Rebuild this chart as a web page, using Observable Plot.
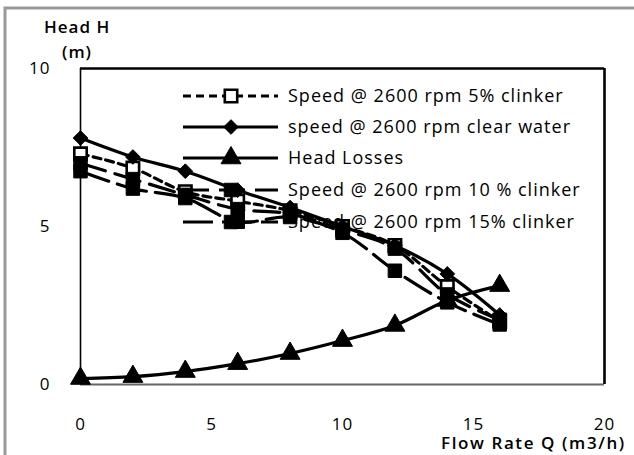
<!DOCTYPE html>
<html><head><meta charset="utf-8">
<script src="https://cdn.jsdelivr.net/npm/d3@7"></script>
<script src="https://cdn.jsdelivr.net/npm/@observablehq/plot@0.6"></script>
<style>body{margin:0;background:#fff} #chart{position:relative;width:634px;height:455px;overflow:hidden}</style>
</head><body><div id="chart"></div>
<script>
// ---- data ----
const flowRate   = [0, 2, 4, 6, 8, 10, 12, 14, 16];
const clinker5   = [7.3, 6.85, 6.1, 5.8, 5.5, 5.0, 4.4, 3.1, 2.0];
const clearWater = [7.8, 7.2, 6.75, 6.15, 5.6, 5.0, 4.4, 3.5, 2.2];
const headLosses = [0.19, 0.25, 0.41, 0.66, 0.98, 1.39, 1.87, 2.66, 3.13];
const clinker10  = [7.0, 6.5, 6.0, 5.55, 5.4, 4.9, 4.3, 2.85, 2.05];
const clinker15  = [6.75, 6.2, 5.9, 5.15, 5.3, 4.8, 3.6, 2.6, 1.9];
const seriesNames = [
  "Speed @ 2600 rpm 5% clinker",
  "speed @ 2600 rpm clear water",
  "Head Losses",
  "Speed @ 2600 rpm 10 % clinker",
  "Speed @ 2600 rpm 15% clinker"
];
const xTicks = [0, 5, 10, 15, 20];
const yTicks = [0, 5, 10];
const xLabel = "Flow Rate Q (m3/h)";
const yLabel1 = "Head H";
const yLabel2 = "(m)";

const seriesValues = [clinker5, clearWater, headLosses, clinker10, clinker15];
const styles = [
  {dash: "8,5",   symbol: "square",   fill: "#fff", r: 7.0},
  {dash: null,    symbol: "diamond2", fill: "#000", r: 6.6},
  {dash: null,    symbol: "triangle", fill: "#000", r: 7.4},
  {dash: "26,10", symbol: "square",   fill: "#000", r: 7.6},
  {dash: "30,9",  symbol: "square",   fill: "#000", r: 7.6}
];
const rows = [];
seriesNames.forEach((name, i) => flowRate.forEach((q, j) => rows.push({series: name, idx: i, q, h: seriesValues[i][j]})));

const marks = [];
seriesNames.forEach((name, i) => {
  const d = rows.filter(r => r.idx === i);
  const st = styles[i];
  marks.push(Plot.line(d, {x: "q", y: "h", stroke: "#000", strokeWidth: 3.2, curve: "catmull-rom", strokeDasharray: st.dash || undefined}));
  marks.push(Plot.dot(d, {x: "q", y: "h", symbol: () => st.symbol, r: st.r, fill: st.fill, stroke: "#000", strokeWidth: st.fill === "#fff" ? 2.6 : 1}));
});

const plot = Plot.plot({
  width: 634, height: 455,
  marginLeft: 80, marginTop: 68, marginRight: 30, marginBottom: 71,
  style: {fontFamily: "Open Sans, sans-serif", fontSize: "17px", letterSpacing: "1px", background: "transparent", color: "#000", overflow: "visible"},
  x: {domain: [0, 20], ticks: xTicks, tickSize: 0, tickPadding: 33, label: null},
  y: {domain: [0, 10], ticks: yTicks, tickSize: 0, tickPadding: 30, label: null},
  marks: [
    Plot.ruleX([0], {stroke: "#000", strokeWidth: 1.6}),
    Plot.ruleY([0], {stroke: "#666", strokeWidth: 2.2}),
    Plot.ruleY([10], {stroke: "#000", strokeWidth: 2.6}),
    Plot.ruleX([20], {stroke: "#000", strokeWidth: 2.6}),
    ...marks
  ]
});
document.getElementById("chart").appendChild(plot);

// ---- decorations: outer border, axis titles, legend ----
const svg = d3.select(plot);
svg.append("path").attr("d", "M5,460 V8 H640").attr("fill", "none").attr("stroke", "#999").attr("stroke-width", 3);
const tf = "Open Sans, sans-serif";
const addText = (x, y, t, opts = {}) => svg.append("text").attr("x", x).attr("y", y)
  .attr("text-anchor", "start").attr("font-family", tf).attr("font-size", opts.size || 18)
  .attr("letter-spacing", opts.ls || "1px")
  .attr("font-weight", opts.weight || 400).attr("dy", "0.35em").text(t);
addText(44, 27, yLabel1, {weight: 600, size: 17, ls: "1px"});
addText(62, 52, yLabel2, {weight: 600, size: 17, ls: "1px"});
addText(441, 443, xLabel, {weight: 600, size: 17, ls: "1.6px"});

const legY = [96, 127, 158, 190, 222];
seriesNames.forEach((name, i) => {
  const st = styles[i];
  const y = legY[i];
  svg.append("line").attr("x1", 183).attr("x2", 278).attr("y1", y).attr("y2", y)
    .attr("stroke", "#000").attr("stroke-width", 3.2).attr("stroke-dasharray", st.dash);
  const sym = {square: d3.symbolSquare, diamond2: d3.symbolDiamond2, triangle: d3.symbolTriangle}[st.symbol];
  svg.append("path").attr("d", d3.symbol(sym, Math.PI * st.r * st.r)()).attr("transform", `translate(231,${y})`)
    .attr("fill", st.fill).attr("stroke", "#000").attr("stroke-width", st.fill === "#fff" ? 2.6 : 1);
  addText(288, y, name);
});
</script></body></html>
